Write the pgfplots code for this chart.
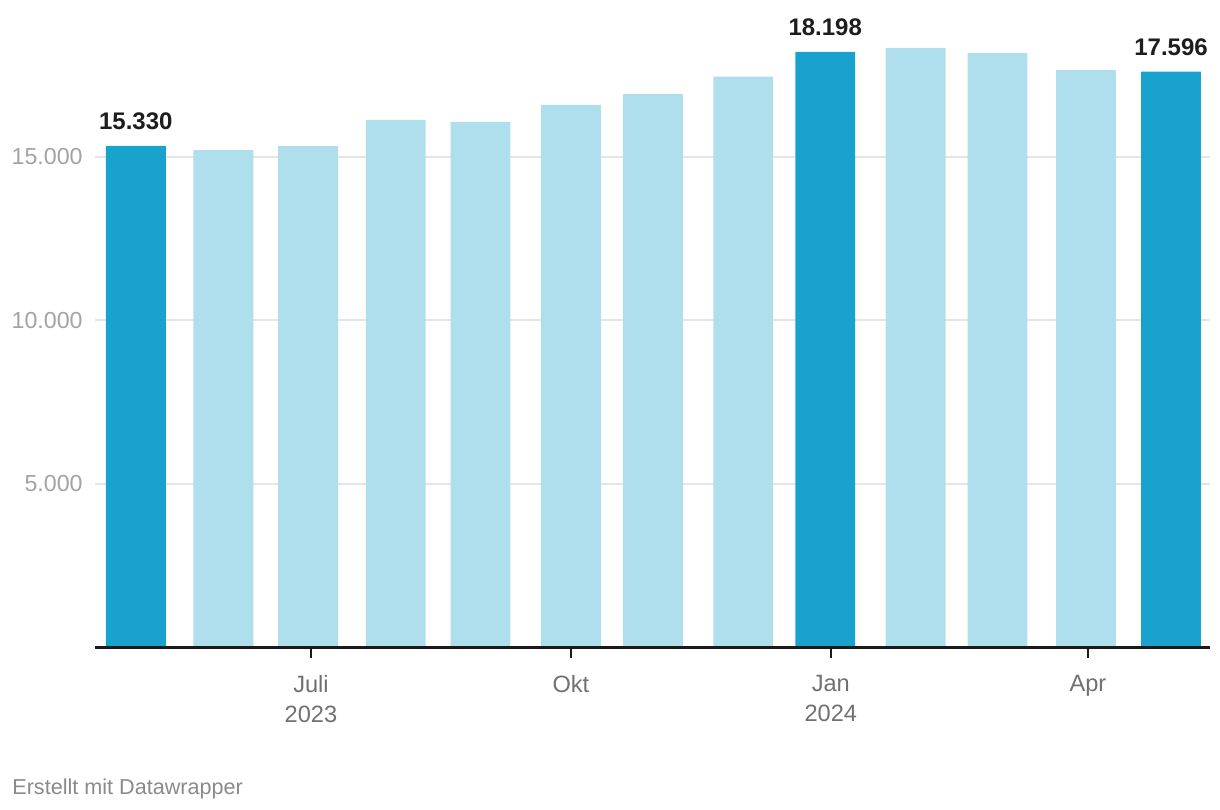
\documentclass[border=0pt]{standalone}
\usepackage{pgfplots}
\pgfplotsset{compat=1.18}
\usepackage{fontspec}
\setmainfont{Liberation Sans}
\definecolor{darkbar}{RGB}{26,162,206}
\definecolor{lightbar}{RGB}{175,222,237}
\definecolor{gridc}{RGB}{229,229,229}
\definecolor{ylab}{RGB}{163,163,163}
\definecolor{xlab}{RGB}{112,112,112}
\definecolor{foot}{RGB}{138,138,138}
\definecolor{axisc}{RGB}{26,26,26}
\definecolor{labc}{RGB}{29,29,29}
\begin{document}
\begin{tikzpicture}
\begin{axis}[
  at={(0,0)}, anchor=south west,
  scale only axis, width=557.5bp, height=310.9bp,
  xmin=-15.45, xmax=379.2, ymin=0, ymax=19000,
  ybar, bar width=21.2,
  axis x line*=bottom, axis y line*=left,
  axis line style={-},
  y axis line style={draw=none},
  x axis line style={draw=none},
  scaled y ticks=false, scaled x ticks=false,
  xtick={61,153,245,336},
  xticklabels={{Juli\\2023},{Okt},{Jan\\2024},{Apr}},
  ytick={5000,10000,15000},
  yticklabels={5.000,10.000,15.000},
  ymajorgrids, grid style={gridc, line width=1bp},
  tick align=outside, major tick length=5bp,
  x tick style={axisc, line width=1bp},
  y tick style={draw=none},
  xticklabel style={font=\fontsize{11.8bp}{15bp}\selectfont, text=xlab, align=center, inner sep=0pt, anchor=north, yshift=-8.5bp},
  yticklabel style={font=\fontsize{11.6bp}{14bp}\selectfont, text=ylab, inner sep=0pt, anchor=east, xshift=-1bp},
  clip=false,
  /pgf/number format/.cd, fixed, precision=0, 1000 sep={.}, assume math mode=true,
]
\addplot[fill=lightbar, draw=none, bar shift=0pt] coordinates {
  (30,15200) (60,15320) (91,16120) (121,16060) (153,16580) (182,16910)
  (214,17440) (275,18320) (304,18165) (335.3,17645)
};
\addplot[fill=darkbar, draw=none, bar shift=0pt, nodes near coords,
  every node near coord/.append style={font=\bfseries\fontsize{12bp}{14bp}\selectfont, text=labc, inner sep=0pt, anchor=south, yshift=8bp}]
  coordinates {(-1,15330) (243,18198) (365.4,17596)};
\draw[axisc, line width=1.2bp] (axis cs:-15.45,0) -- (axis cs:379.2,0);
\end{axis}
\node[anchor=base west, inner sep=0pt, font=\fontsize{10.8bp}{13bp}\selectfont, text=foot] at (-41.5bp,-73.25bp) {Erstellt mit Datawrapper};
\path[use as bounding box] (-47.5bp,-81.25bp) rectangle (562.5bp,323.75bp);
\end{tikzpicture}
\end{document}
